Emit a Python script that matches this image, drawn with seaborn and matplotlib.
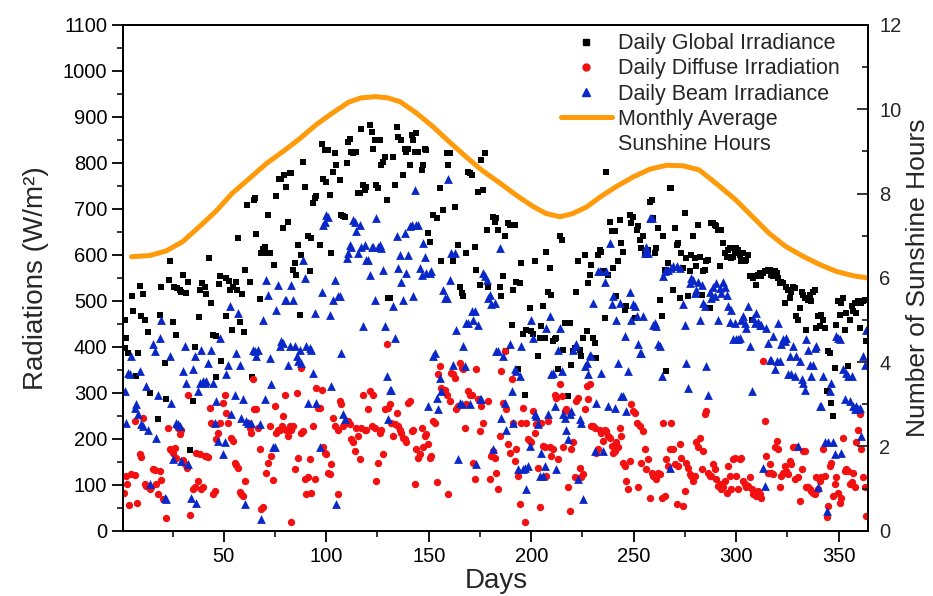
import matplotlib
matplotlib.use("Agg")
import matplotlib.pyplot as plt
import seaborn as sns
from matplotlib.lines import Line2D
from matplotlib.ticker import MultipleLocator

# ---------------- data ----------------
global_days = [1.7,2.5,1.7,3.3,5,5.7,7,8.2,9,9.8,10.6,11.4,13,13.9,17.9,19,19.6,21.2,22,23.1,23.6,25.2,25.6,26.9,27.4,28.5,29.3,30.1,31.4,32.6,33.4,35,35.8,37.8,38.6,39.6,40.7,41.5,42.8,44,44.8,46.1,46.4,47.5,48.4,48.8,51,51.3,52.6,53.2,53.9,54.5,55.8,56.5,57,57.8,59.1,59.7,60.5,61.5,62.7,63.8,64.6,65.4,65.9,67.5,68.4,69.2,70,70.8,71.8,72.4,74.4,75.7,76.8,77.8,79,79.4,80.6,81.4,82.2,
    83,83.8,84.6,85.4,86.3,87.1,87.9,88.7,89.5,91.1,92,92.8,93.6,94.4,95.2,96.8,97.7,98.5,99.3,100.1,100.9,101.7,102.5,103.3,104.2,105,106.6,107.4,108.2,109,109.9,110.7,111.5,112.3,113.1,114.7,115.6,116.4,117.2,118,118.8,119.6,121.2,122.1,122.9,123.7,124.5,125.3,126.1,126.9,127.7,128.6,129.4,130.2,131,132.6,133.4,134.3,135.1,136.7,137.5,138.3,139.1,139.9,140.8,141.6,142.4,143.2,144,144.8,146.5,147.3,148.1,148.9,149.7,150.5,152.2,153.8,155.4,156.2,157,158.7,159.5,160.3,161.9,162.7,164.4,165.2,166,166.8,168.4,169.2,170.1,170.9,172.5,173.3,174.1,174.9,
    175.7,177.3,176.5,178.2,179,181.4,182.2,183,183.8,184.7,185.5,186.3,187.1,187.9,188.7,189.5,190.4,191.2,192,192.8,193.6,194.4,195.2,196.1,196.9,197.7,199.3,200.1,200.9,201.7,203.4,204.2,205,205.8,206.6,207.4,208.2,209.1,209.9,210.7,211.5,212.3,213.1,213.9,214.8,215.6,216.4,217.2,218,218.8,219.6,220.5,221.3,222.1,222.9,223.7,224.5,225.3,226.1,227,227.8,228.6,229.4,230.2,231,231.8,232.7,233.5,234.3,235.1,235.9,236.7,237.5,238.3,239.2,240,240.8,241.6,242.4,243.2,244,244.9,245.7,246.5,248.1,248.9,249.7,250.5,251.4,252.2,253,253.8,254.6,255.4,256.2,257.1,257.9,258.7,259.5,260.3,261.1,261.9,262.7,263.6,264.4,265.2,266,266.8,267.6,
    268.4,269.2,270,270.9,271.7,272.5,273.3,274.1,274.9,275.7,276.5,277.4,278.2,279,279.8,280.6,281.4,282.2,283.1,283.9,284.7,285.5,286.3,287.1,287.9,288.7,289.6,290.4,291.2,292,292.8,293.6,294.4,295.3,296.1,296.9,297.7,298.5,299.3,300.1,300.9,301.8,302.6,303.4,304.2,305,305.8,306.6,307.5,308.3,309.1,309.9,310.7,311.5,312.3,313.2,314,314.8,315.6,316.4,317.2,318,318.8,319.7,320.5,321.3,322.1,322.9,323.7,324.5,325.4,326.2,327,327.8,328.6,329.4,330.2,331,331.9,332.7,333.5,334.3,335.1,335.9,336.7,337.6,338.4,339.2,340,340.8,341.6,342.4,343.2,344.1,344.9,345.7,346.5,347.3,348.1,348.9,349.8,350.6,351.4,352.2,353,353.8,354.6,355.4,356.3,357.1,357.9,358.7,359.5,360.3,361.1,361.9,362.8,363.6]
global_vals = [459,419,398,387,510,477,336,387,533,466,515,459,432,299,242,470,531,364,286,546,586,454,531,425,528,524,520,557,517,542,175,282,400,465,524,539,531,515,593,495,425,424,335,537,553,369,466,549,544,524,437,531,540,524,636,455,515,432,567,709,540,335,719,723,646,505,604,612,618,605,687,604,578,728,764,766,659,774,748,672,777,
    777,568,582,557,622,470,600,803,748,640,564,636,712,723,728,622,841,766,828,759,828,730,604,781,821,795,763,687,685,683,799,846,853,824,822,824,734,734,873,752,741,748,882,868,831,850,752,745,850,795,803,813,719,506,506,813,752,878,857,850,774,831,824,831,795,860,850,824,864,824,784,795,831,828,647,629,687,680,745,586,698,821,795,821,586,705,622,531,517,510,604,781,777,774,618,568,737,535,
    806,821,741,654,531,683,672,680,654,531,510,553,640,390,669,665,448,524,665,542,351,539,582,427,296,437,484,434,427,586,380,419,445,488,419,607,520,571,513,412,416,419,351,640,633,394,452,452,293,452,361,390,398,520,586,394,380,419,600,434,539,557,578,419,408,376,600,611,607,564,463,781,557,672,651,571,651,510,586,676,625,607,481,488,687,669,683,463,654,662,633,615,640,604,600,611,716,719,680,604,615,658,502,466,640,568,347,582,745,
    745,524,658,622,625,506,604,571,690,593,510,564,600,640,593,575,665,596,513,564,568,586,589,484,669,669,665,662,654,575,654,625,604,596,611,615,593,596,604,615,611,600,586,604,586,589,600,553,459,549,553,535,557,560,553,560,564,564,568,568,557,553,564,560,549,539,542,539,495,531,524,506,520,531,528,466,459,484,520,513,506,437,502,513,499,520,524,441,466,445,470,459,441,304,390,387,278,249,354,448,499,470,495,506,437,474,358,459,488,477,495,474,499,441,495,499,502,412]

diffuse_days = [2.2,2.8,1.3,3.8,4.9,6.9,7.7,6.5,9,9.8,10.6,11.4,12.2,13.9,14.7,15.5,16.3,16.8,18,18.7,19.6,20.4,22,22.8,23.6,24.4,25.2,26.1,26.9,27.7,28.5,29.3,30.1,30.9,32.1,32.6,33.4,35,35.8,36.6,37.5,38.3,39.1,39.9,40.7,41.5,42.3,43.1,44,44.8,45.6,46.4,47.2,48,49.7,50.5,51,52.1,53.7,54.5,55.4,56.2,57,57.8,58.6,59.4,60.2,61.9,62.7,63.5,64.3,64.6,65.6,66.7,67.5,68.4,69.2,70.8,71.6,72.4,73.2,74.1,74.9,75.7,76.5,77.3,78.6,79,79.7,80.6,81.4,82.2,83,
    83,83.8,84.6,85.5,86.3,87.9,87.9,88.7,89.5,90.3,91.1,92,92.8,93.6,94.4,95.2,96,96.8,97.7,98.5,99.3,100.1,100.9,101.7,102.5,103.3,104.2,105.8,105.8,106.6,107.4,108.2,109,109.9,110.7,111.5,112.3,113.1,113.9,114.7,115.6,116.4,117.2,118,118.8,119.6,120.4,121.2,122.1,122.9,123.7,124.5,125.3,126.1,126.9,127.7,128.6,129.4,130.2,131,131.8,132.6,133.4,134.3,135.1,135.9,136.7,137.5,138.3,139.1,139.9,140.8,141.6,142.4,143.2,144,144.8,145.7,146.5,147.3,148.1,148.9,149.7,150.5,151.3,152.2,153,153.8,154.6,155.4,156.2,157,157.9,158.7,159.5,160.3,161.1,161.9,162.7,163.5,164.4,165.2,166,166.8,167.6,168.4,169.2,170.1,170.9,171.7,172.5,173.3,174.1,174.9,
    175.7,176.5,179,179.8,180.6,181.4,182.2,183,183.8,184.7,185.5,186.3,187.1,187.9,188.7,189.5,190.4,191.2,192,192.8,193.6,194.4,195.2,196.1,196.9,197.7,198.5,199.3,200.1,200.9,201.7,202.5,203.4,204.2,205,205.8,206.6,207.4,208.2,209.1,209.9,210.7,211.5,212.3,213.1,213.9,214.8,215.6,216.4,217.2,218,218.8,219.6,220.5,221.3,222.1,222.9,223.7,224.5,225.3,226.1,227,227.8,228.6,229.4,230.2,231,231.8,232.7,233.5,234.3,235.1,235.9,236.7,237.5,238.3,239.2,240,240.8,241.6,242.4,243.2,244,244.9,245.7,246.5,247.3,248.1,248.9,249.7,250.5,251.4,252.2,253,253.8,254.6,255.4,256.2,257.1,257.9,258.7,259.5,260.3,261.1,261.9,262.7,263.6,264.4,265.2,266,266.8,267.6,
    268.4,269.2,270,270.9,271.7,272.5,273.3,274.1,274.9,275.7,276.5,277.4,278.2,279,279.8,280.6,281.4,282.2,283.1,283.9,284.7,285.5,286.3,287.1,287.9,288.7,289.6,290.4,291.2,292,292.8,293.6,294.4,295.3,296.1,296.9,297.7,298.5,299.3,300.1,300.9,301.8,302.6,303.4,304.2,305,305.8,306.6,307.5,308.3,309.1,309.9,310.7,311.5,312.3,313.2,314,314.8,315.6,316.4,317.2,318,318.8,319.7,320.5,321.3,322.1,322.9,323.7,324.5,325.4,326.2,327,327.8,328.6,329.4,330.2,331,331.9,332.7,333.5,334.3,335.1,335.9,336.7,337.6,338.4,339.2,340,340.8,341.6,342.4,343.2,344.1,344.9,345.7,346.5,347.3,348.1,348.9,349.8,350.6,351.4,352.2,353,353.8,354.6,355.4,356.3,357.1,357.9,358.7,359.5,360.3,361.1,361.9,362.8,363.6]
diffuse_vals = [119,101,83,56,123,121,61,239,166,160,246,101,98,90,94,134,132,101,79,130,110,69,27,224,177,175,170,179,158,224,210,220,153,145,137,296,34,90,94,168,108,166,90,94,163,163,161,267,235,79,87,199,213,235,278,296,257,235,202,195,148,142,137,85,79,76,108,235,224,213,329,265,264,224,177,47,51,126,148,228,163,110,271,213,220,220,228,249,296,220,206,228,18,
    220,228,134,300,159,354,213,217,112,79,116,155,83,228,112,311,267,267,307,181,170,166,126,123,145,246,228,220,79,282,275,228,235,235,239,231,199,192,173,224,206,155,224,296,220,220,264,304,228,296,224,108,148,213,220,166,264,405,267,275,235,206,231,257,228,220,213,202,199,192,278,282,217,220,101,177,159,166,224,181,206,210,188,159,163,239,235,105,340,358,311,304,307,296,79,282,343,340,333,264,271,365,354,351,224,275,304,296,296,148,112,351,286,217,
    271,235,282,112,163,173,159,126,90,206,347,278,390,264,188,170,329,235,152,177,119,58,235,267,18,235,199,195,192,260,213,231,137,51,235,184,181,119,239,181,163,177,296,289,155,318,293,181,260,264,94,43,177,192,116,282,289,137,116,123,264,314,286,318,228,228,224,170,177,220,213,195,220,217,206,202,184,170,173,192,181,224,206,148,141,108,90,152,275,260,257,235,94,228,148,217,177,134,155,72,126,119,116,112,126,123,72,235,76,155,141,177,
    235,177,145,58,141,188,159,54,87,148,137,123,119,108,119,192,181,202,134,173,253,260,126,119,119,145,134,112,98,101,90,94,108,83,141,119,90,155,159,119,90,155,159,108,101,94,98,116,90,79,83,76,87,79,72,369,239,163,126,145,126,123,181,195,177,94,119,126,141,130,123,152,145,181,112,181,116,65,134,173,173,94,94,90,87,83,79,116,90,108,116,177,119,29,54,141,148,76,101,116,83,61,72,202,130,134,130,101,105,126,94,192,220,253,177,116,94,32]

beam_days = [1.7,2.5,3.3,4.9,4.1,6.5,7.4,8.2,9,9.8,10.6,12.2,13.1,13.9,15.5,16.3,17.1,18,18.7,19.6,21.2,22,23.6,24.4,25.2,26.9,27.7,28.5,29.3,30.1,30.9,31.8,32.6,34.2,35,35.8,36.6,37.5,38.3,39.1,39.9,40.7,41.5,42.3,44,44.8,45.6,46.4,47.2,48,49.7,50.5,51.3,52.1,52.9,53.7,55.4,56.2,57,57.8,58.6,59.4,60.2,61,61.9,63.5,64.3,65.1,65.9,66.7,67.5,68.4,69.2,70,70.8,71.6,72.4,73.2,74.1,74.9,75.7,76.5,77.3,78.1,79,79.7,80.6,81.4,82.2,
    83,83.8,84.6,85.5,86.3,87.1,87.9,88.7,89.5,90.3,91.1,92,92.8,93.6,94.4,95.2,96.8,97.7,98.5,99.3,100.1,100.9,101.7,102.5,103.3,104.2,105,105.8,106.6,107.4,108.2,109,109.9,110.7,111.5,112.3,113.1,113.9,114.7,115.6,116.4,117.2,118,118.8,119.6,120.4,121.2,122.1,122.9,123.7,124.5,125.3,126.1,126.9,127.7,128.6,129.4,130.2,131,131.8,132.6,133.4,134.3,135.1,135.9,136.7,137.5,138.3,139.1,139.9,140.8,141.6,142.4,143.2,144,144.8,145.7,146.5,147.3,148.1,148.9,149.7,150.5,151.3,152.2,153,153.8,154.6,155.4,156.2,157,157.9,158.7,159.5,160.3,161.1,161.9,162.7,163.5,164.4,165.2,166,166.8,167.6,168.4,169.2,170.1,170.9,171.7,172.5,173.3,174.1,174.9,
    175.7,176.5,177.3,178.2,179,179.8,180.6,181.4,182.2,183,183.8,184.7,185.5,186.3,187.1,187.9,189.5,190.4,191.2,192,192.8,193.6,194.4,195.2,196.1,196.9,197.7,198.5,199.3,200.1,200.9,201.7,202.5,203.4,204.2,205,205.8,206.6,207.4,208.2,209.1,209.9,210.7,211.5,212.3,213.1,213.9,214.8,215.6,216.4,217.2,218,218.8,219.6,220.5,221.3,222.1,222.9,223.7,224.5,225.3,226.1,227,227.8,228.6,229.4,230.2,231,231.8,232.7,233.5,234.3,235.1,235.9,236.7,237.5,238.3,239.2,240,240.8,241.6,242.4,243.2,244,244.9,245.7,246.5,247.3,248.1,248.9,249.7,250.5,251.4,252.2,253,253.8,254.6,255.4,256.2,257.1,257.9,258.7,259.5,260.3,261.1,261.9,262.7,263.6,264.4,265.2,266,266.8,267.6,
    268.4,269.2,270.9,272.5,274.1,274.9,275.7,276.5,277.4,278.2,279,279.8,280.6,281.4,282.2,283.1,283.9,284.7,285.5,286.3,287.1,287.9,288.7,289.6,290.4,291.2,292,292.8,293.6,294.4,295.3,296.1,296.9,297.7,298.5,299.3,300.1,300.9,301.8,302.6,303.4,304.2,305,305.8,306.6,307.5,308.3,309.1,309.9,310.7,311.5,312.3,313.2,314,314.8,315.6,316.4,317.2,318,318.8,319.7,320.5,321.3,322.1,322.9,323.7,324.5,325.4,326.2,327,327.8,328.6,329.4,330.2,331,331.9,332.7,333.5,334.3,335.1,335.9,336.7,337.6,338.4,339.2,340,340.8,341.6,342.4,343.2,344.1,344.9,345.7,346.5,347.3,348.1,348.9,349.8,350.6,351.4,352.2,353,353.8,354.6,355.4,356.3,357.1,357.9,358.7,359.5,360.3,361.1,361.9,362.8,363.6]
beam_vals = [304,235,343,380,340,267,275,253,347,231,228,314,220,101,405,390,202,296,419,459,72,69,380,278,155,235,231,228,152,347,401,322,145,72,351,380,61,304,322,394,325,322,325,365,394,322,235,282,195,419,166,192,340,361,488,253,296,387,474,361,246,286,58,239,235,235,394,390,380,394,231,25,459,286,546,513,376,318,181,183,481,535,401,412,408,502,502,361,401,
    535,502,401,380,369,394,365,589,549,401,278,398,394,343,474,278,181,520,665,672,687,683,470,314,502,546,58,510,510,387,253,242,593,604,622,618,676,672,651,604,665,618,445,622,589,589,557,618,618,502,680,618,622,615,568,445,336,242,307,307,488,419,640,571,600,542,502,647,560,600,662,665,510,741,665,665,571,557,625,596,560,271,560,564,380,387,289,264,333,304,524,506,506,766,546,604,361,604,437,155,278,275,401,358,452,452,275,477,459,477,145,448,286,
    286,560,553,546,506,513,492,177,495,390,390,615,246,380,278,220,405,304,235,351,347,134,336,401,134,137,90,141,184,459,419,253,249,231,119,170,119,141,441,253,466,340,343,271,134,394,441,347,253,246,220,199,253,260,394,401,405,112,242,235,69,358,365,340,383,380,495,173,278,564,564,343,173,542,564,271,625,492,510,267,459,365,495,293,293,423,260,347,520,459,492,488,466,405,387,387,466,604,618,604,680,680,448,452,445,405,401,336,553,564,568,568,137,
    571,575,575,571,492,448,365,311,539,549,546,517,524,542,459,535,495,488,358,296,520,506,531,510,539,459,528,517,542,531,513,488,455,481,416,452,416,416,419,459,466,452,441,488,401,304,463,452,474,455,448,448,137,98,441,408,372,372,423,351,369,452,369,405,416,412,419,340,380,340,401,336,380,184,369,329,322,307,416,394,361,336,361,398,401,94,271,271,336,192,43,192,304,322,192,166,423,419,416,170,351,286,343,336,282,336,271,264,271,264,267,206,380,361,437]

sun_days = [5,14,22,30,38,46,54,63,71,79,87,95,103,111,117,124,130,136,144,152,160,168,176,185,193,201,207,214,220,227,234,242,250,258,266,274,282,292,300,308,316,324,333,341,349,357,365]
sun_hours = [6.50,6.53,6.64,6.86,7.21,7.57,8.00,8.38,8.72,9.00,9.30,9.63,9.91,10.17,10.27,10.30,10.27,10.18,9.91,9.59,9.23,8.88,8.55,8.24,7.95,7.69,7.53,7.45,7.52,7.68,7.93,8.18,8.40,8.58,8.67,8.66,8.56,8.17,7.84,7.45,7.06,6.75,6.50,6.31,6.15,6.05,5.99]

labels = ["Daily Global Irradiance", "Daily Diffuse Irradiation",
          "Daily Beam Irradiance", "Monthly Average", "Sunshine Hours"]

# ---------------- plotting ----------------
sns.set_theme(style="ticks")
plt.rcParams["font.family"] = ["Liberation Sans", "DejaVu Sans"]
plt.rcParams["axes.edgecolor"] = "black"
plt.rcParams["axes.linewidth"] = 1.3

c_black, c_red, c_blue, c_orange = "#000000", "#f21010", "#0a28c8", "#ff9a0a"

fig = plt.figure(figsize=(9.33, 5.96), dpi=100)
ax = fig.add_axes([0.1322, 0.1096, 0.7985, 0.8485])

sns.scatterplot(x=global_days, y=global_vals, marker="s", color=c_black, s=20,
                linewidth=0, ax=ax, zorder=3)
sns.scatterplot(x=diffuse_days, y=diffuse_vals, marker="o", color=c_red, s=28,
                linewidth=0, ax=ax, zorder=3)
sns.scatterplot(x=beam_days, y=beam_vals, marker="^", color=c_blue, s=40,
                linewidth=0, ax=ax, zorder=4)

ax.set_xlim(1, 364.5)
ax.set_ylim(0, 1100)
ax.xaxis.set_major_locator(MultipleLocator(50))
ax.xaxis.set_minor_locator(MultipleLocator(25))
ax.yaxis.set_major_locator(MultipleLocator(100))
ax.yaxis.set_minor_locator(MultipleLocator(50))
ax.tick_params(which="major", direction="out", length=8, width=1.3,
               labelsize=14.5, colors="black", top=False, right=False)
ax.tick_params(which="minor", direction="out", length=4, width=1.3,
               top=False, right=False)
ax.set_xlabel("Days", fontsize=20, labelpad=2)
ax.set_ylabel("Radiations (W/m²)", fontsize=20, labelpad=10)

ax2 = ax.twinx()
sns.lineplot(x=sun_days, y=sun_hours, color=c_orange, linewidth=3.6, ax=ax2,
             legend=False)
ax2.set_ylim(0, 12)
ax2.yaxis.set_major_locator(MultipleLocator(2))
ax2.yaxis.set_minor_locator(MultipleLocator(1))
ax2.tick_params(which="major", direction="in", length=8, width=1.3,
                labelsize=14.5, pad=8)
ax2.tick_params(which="minor", direction="in", length=4, width=1.3)
ax2.set_ylabel("Number of Sunshine Hours", fontsize=19, labelpad=3)
for a in (ax, ax2):
    for sp in a.spines.values():
        sp.set_color("black")
        sp.set_linewidth(1.3)

handles = [
    Line2D([], [], marker="s", color=c_black, linestyle="none", markersize=4.5),
    Line2D([], [], marker="o", color=c_red, linestyle="none", markersize=5),
    Line2D([], [], marker="^", color=c_blue, linestyle="none", markersize=6),
    Line2D([], [], color=c_orange, linewidth=3.6),
    Line2D([], [], linestyle="none"),
]
ax2.legend(handles, labels, loc="upper left", bbox_to_anchor=(0.587, 0.984),
           frameon=False, fontsize=15.5, handlelength=2.4, handletextpad=0.25,
           labelspacing=0.2, borderpad=0, borderaxespad=0)

fig.savefig("out.png", dpi=100)
